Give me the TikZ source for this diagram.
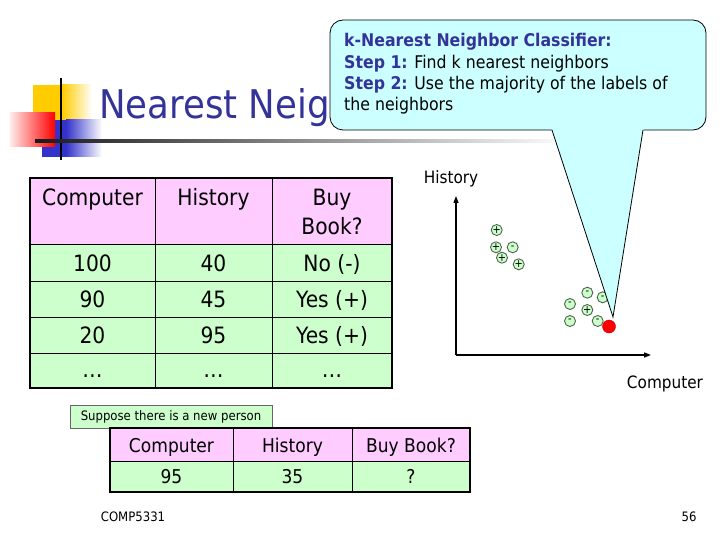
\documentclass[tikz,border=0pt]{standalone}
\usepackage{fontspec}
\setmainfont{DejaVu Sans}[FakeStretch=0.9]
\usetikzlibrary{arrows.meta}
\definecolor{titleblue}{HTML}{333399}
\definecolor{pinkc}{HTML}{FFCCFF}
\definecolor{greenc}{HTML}{CCFFCC}
\definecolor{cyanc}{HTML}{CCFFFF}
\definecolor{ptdraw}{HTML}{4D664D}
\definecolor{logoyellow}{HTML}{FFCC00}
\definecolor{logoblue}{HTML}{3333CC}
\newcommand{\fs}[1]{\fontsize{#1}{#1}\selectfont}
\tikzset{
  cell/.style={anchor=base,inner sep=0pt,font=\fs{22.5}},
  cellb/.style={anchor=base,inner sep=0pt,font=\fs{19}},
  pt/.style={circle,draw=ptdraw,line width=0.9pt,fill=greenc,minimum size=11pt,inner sep=0pt,font=\fs{11}},
  thinline/.style={draw=black,line width=0.8pt},
  thickline/.style={draw=black,line width=2pt},
  calloutline/.style={anchor=base west,inner sep=0pt,font=\fs{17.5}}
}
\begin{document}
\begin{tikzpicture}[x=1pt,y=-1pt]
\useasboundingbox (0,0) rectangle (720,540);
\fill[white] (0,0) rectangle (720,540);
% decorative logo
\fill[logoyellow] (33,85) rectangle (62,120);
\shade[left color=logoyellow,right color=white] (62,85) rectangle (92,120);
\fill[logoblue] (42,120) rectangle (66,157);
\shade[left color=logoblue,right color=white] (66,120) rectangle (102,157);
\shade[left color=red!8,right color=red] (10,113) rectangle (55,147);
\draw[line width=2.5pt] (61,78) -- (61,160);
\shade[left color=black!90,right color=white] (35,139.5) rectangle (570,142.5);
% title
\node[anchor=base west,inner sep=0pt,text=titleblue,font=\fs{39.5}] (title) at (99,119) {Nearest Neig};
% table 1
\fill[pinkc] (30,178) rectangle (392,244);
\fill[greenc] (30,244) rectangle (392,388);
\draw[thinline] (30,244) -- (392,244) (30,281) -- (392,281) (30,317) -- (392,317) (30,353) -- (392,353)
  (155,178) -- (155,388) (272,178) -- (272,388);
\draw[thickline] (30,178) rectangle (392,388);
\node[cell] (c0) at (92.5,206) {Computer};
\node[cell] (h0) at (213.5,206) {History};
\node[cell] (b0) at (332,206) {Buy};
\node[cell] (b0b) at (332,235) {Book?};
\node[cell] (c1) at (92.5,271) {100};
\node[cell] (h1) at (213.5,271) {40};
\node[cell] (b1) at (332,271) {No (-)};
\node[cell] (c2) at (92.5,307) {90};
\node[cell] (h2) at (213.5,307) {45};
\node[cell] (b2) at (332,307) {Yes (+)};
\node[cell] (c3) at (92.5,343) {20};
\node[cell] (h3) at (213.5,343) {95};
\node[cell] (b3) at (332,343) {Yes (+)};
\node[cell] (c4) at (92.5,377) {\dots};
\node[cell] (h4) at (213.5,377) {\dots};
\node[cell] (b4) at (332,377) {\dots};
% suppose box
\node[draw=black!60,line width=0.6pt,fill=greenc,minimum width=202pt,minimum height=23pt,inner sep=0pt,font=\fs{13}] (sup) at (171,416.5) {Suppose there is a new person};
% table 2
\fill[pinkc] (110,428) rectangle (470,461);
\fill[greenc] (110,461) rectangle (470,492);
\draw[thinline] (110,461) -- (470,461) (233,428) -- (233,492) (352,428) -- (352,492);
\draw[thickline] (110,428) rectangle (470,492);
\node[cellb] (nc0) at (171.5,452) {Computer};
\node[cellb] (nh0) at (292.5,452) {History};
\node[cellb] (nb0) at (411,452) {Buy Book?};
\node[cellb] (nc1) at (171.5,483) {95};
\node[cellb] (nh1) at (292.5,483) {35};
\node[cellb] (nb1) at (411,483) {?};
% scatter plot
\coordinate (o) at (456,355);
\coordinate (ytop) at (456,196);
\coordinate (xend) at (651,355);
\draw[line width=1.3pt,-{Triangle[length=7pt,width=5pt]}] (o) -- (ytop);
\draw[line width=1.3pt,-{Triangle[length=7pt,width=5pt]}] (o) -- (xend);
\node[anchor=base,inner sep=0pt,font=\fs{17}] (ylab) at (451,184) {History};
\node[anchor=base,inner sep=0pt,font=\fs{17}] (xlab) at (665,388) {Computer};
\node[pt] (p1) at (496.7,230) {+};
\node[pt] (p2) at (496,247.3) {+};
\node[pt] (p3) at (512.7,247.3) {-};
\node[pt] (p4) at (502,257.7) {+};
\node[pt] (p5) at (518.7,264.3) {+};
\node[pt] (p6) at (587.3,292.7) {-};
\node[pt] (p7) at (602.7,297.3) {-};
\node[pt] (p8) at (570,304) {-};
\node[pt] (p9) at (587.3,310) {+};
\node[pt] (p10) at (570,321) {-};
\node[pt] (p11) at (597.7,321) {-};
\node[circle,fill=red,draw=red!70!black,minimum size=13pt,inner sep=0pt] (q) at (609,326.5) {};
% callout
\draw[fill=cyanc,line width=0.8pt,rounded corners=13pt] (330,20) rectangle (706,130);
\fill[cyanc] (551,127) -- (613,317) -- (644,127) -- cycle;
\coordinate (tip) at (613,317);
\draw[line width=0.8pt] (552,130) -- (tip) -- (643,130);
\node[calloutline,text=titleblue,font=\fs{17.5}\bfseries] (k0) at (344,47) {k-Nearest Neighbor Classifier:};
\node[calloutline] (k1) at (344,68.5) {\textcolor{titleblue}{\bfseries Step 1:} Find k nearest neighbors};
\node[calloutline] (k2) at (344,89.5) {\textcolor{titleblue}{\bfseries Step 2:} Use the majority of the labels of};
\node[calloutline] (k3) at (344,110.5) {the neighbors};
% footer
\node[anchor=base,inner sep=0pt,font=\fs{13}] (foot) at (133,521) {COMP5331};
\node[anchor=base,inner sep=0pt,font=\fs{13}] (pg) at (689,521) {56};
\end{tikzpicture}
\end{document}
